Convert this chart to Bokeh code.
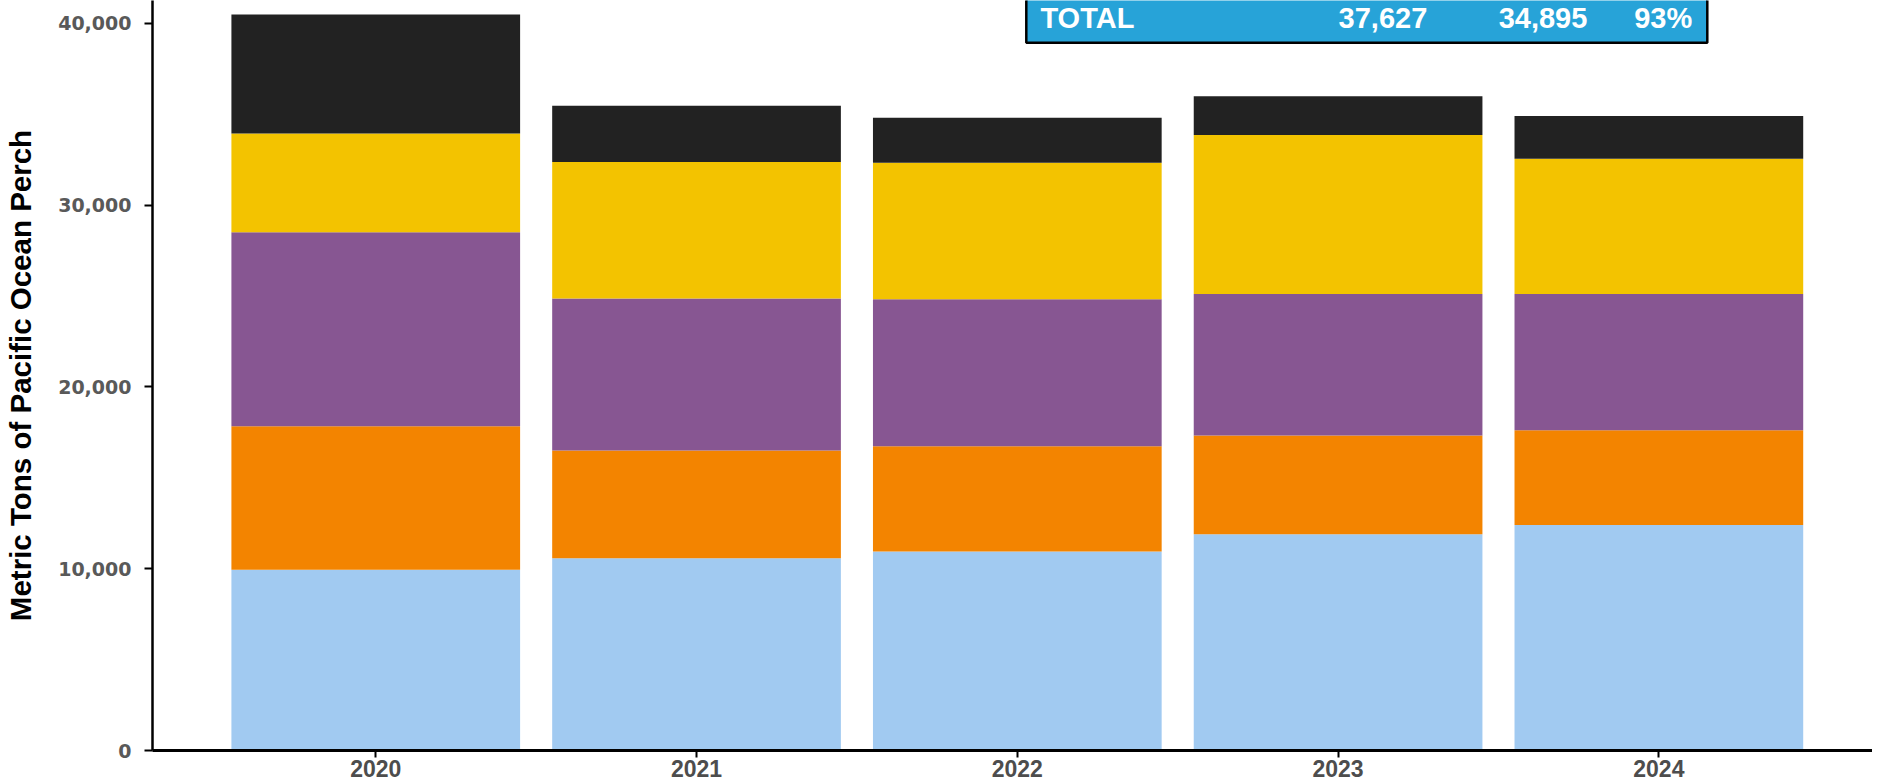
from bokeh.plotting import figure
from bokeh.models import (ColumnDataSource, FixedTicker, NumeralTickFormatter,
                          BoxAnnotation, Label, Range1d)
from bokeh.embed import file_html
from bokeh.resources import INLINE

# ---- data ----
years = [2020, 2021, 2022, 2023, 2024]
series = ["Sector A", "Sector B", "Sector C", "Sector D", "Sector E"]
sector_a = [9935, 10575, 10940, 11895, 12405]    # light blue (bottom)
sector_b = [7895, 5925, 5800, 5425, 5205]        # orange
sector_c = [10675, 8365, 8075, 7785, 7500]       # purple
sector_d = [5430, 7505, 7505, 8750, 7440]        # yellow
sector_e = [6540, 3085, 2475, 2135, 2345]        # black (top)
colors = ["#A1CAF1", "#F38400", "#875692", "#F3C300", "#222222"]

y_ticks = [0, 10000, 20000, 30000, 40000]
table_row = ["TOTAL", "37,627", "34,895", "93%"]

src = ColumnDataSource(dict(year=years, **{
    series[0]: sector_a, series[1]: sector_b, series[2]: sector_c,
    series[3]: sector_d, series[4]: sector_e}))

p = figure(width=1872, height=781, output_backend="svg", toolbar_location=None,
           x_range=Range1d(2019.304, 2024.666), y_range=Range1d(0, 41250),
           min_border_left=152, min_border_right=0, min_border_top=0,
           min_border_bottom=31)

p.vbar_stack(series, x="year", width=0.9, source=src, fill_color=colors,
             line_color=None)

p.xgrid.visible = False
p.ygrid.visible = False
p.outline_line_color = None
p.background_fill_color = "white"

# y axis
ya = p.yaxis[0]
ya.ticker = FixedTicker(ticks=y_ticks)
ya.formatter = NumeralTickFormatter(format="0,0")
ya.minor_tick_line_color = None
ya.major_tick_in = 0
ya.major_tick_out = 8
ya.major_tick_line_width = 2
ya.major_tick_line_color = "black"
ya.axis_line_width = 2.5
ya.axis_line_color = "black"
ya.major_label_text_font = "DejaVu Sans"
ya.major_label_text_font_style = "bold"
ya.major_label_text_font_size = "19px"
ya.major_label_text_color = "#595959"
ya.major_label_standoff = 13
ya.axis_label = "Metric Tons of Pacific Ocean Perch"
ya.axis_label_text_font = "Liberation Sans"
ya.axis_label_text_font_style = "bold"
ya.axis_label_text_font_size = "29.5px"
ya.axis_label_text_color = "black"
ya.axis_label_standoff = 18

# x axis
xa = p.xaxis[0]
xa.ticker = FixedTicker(ticks=years)
xa.major_label_overrides = {y: str(y) for y in years}
xa.minor_tick_line_color = None
xa.major_tick_in = 0
xa.major_tick_out = 7
xa.major_tick_line_width = 2
xa.major_tick_line_color = "black"
xa.axis_line_width = 3
xa.axis_line_color = "black"
xa.major_label_text_font = "Liberation Sans"
xa.major_label_text_font_style = "bold"
xa.major_label_text_font_size = "23px"
xa.major_label_text_color = "#4D4D4D"
xa.major_label_standoff = 2

# summary table (only the TOTAL row is visible)
box = BoxAnnotation(left=2022.028, right=2024.151, bottom=38930, top=46000,
                    fill_color="#27A3D8", fill_alpha=1.0,
                    line_color="black", line_width=2.5, line_alpha=1.0)
p.add_layout(box)

cell_x = [2022.072, 2023.278, 2023.777, 2024.104]
cell_align = ["left", "right", "right", "right"]
for txt, cx, al in zip(table_row, cell_x, cell_align):
    p.add_layout(Label(x=cx, y=40270, text=txt, text_align=al,
                       text_baseline="middle", text_color="white",
                       text_font="Liberation Sans",
                       text_font_style="bold", text_font_size="29px"))

open("out.html", "w").write(file_html(p, INLINE))
